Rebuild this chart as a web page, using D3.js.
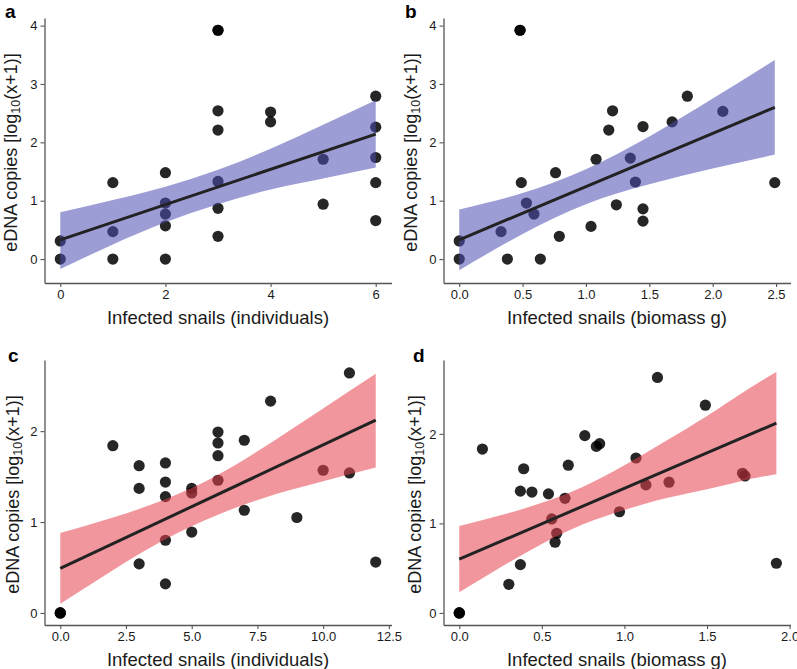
<!DOCTYPE html>
<html>
<head>
<meta charset="utf-8">
<script src="https://cdn.jsdelivr.net/npm/d3@7"></script>
<style>
body { margin: 0; background: #fff; }
text { font-family: "Liberation Sans", Arial, Helvetica, sans-serif; }
</style>
</head>
<body>
<div id="fig"></div>
<script>
// ---- data ----
// a: eDNA vs infected snails (individuals)
const a_x = [0,0,1,1,1,2,2,2,2,2,3,3,3,3,3,3,3,4,4,5,5,6,6,6,6,6]
const a_y = [0.31,0,1.31,0.47,0,1.48,0.96,0.77,0.57,0,3.92,3.92,2.54,2.21,1.33,0.87,0.39,2.52,2.35,1.71,0.94,2.79,2.26,1.74,1.31,0.66]
const a_fit_x = [0, 6]
const a_fit_y = [0.33, 2.14]
const a_band_x = [0, 1, 2, 3, 4, 5, 6]
const a_band_lo = [-0.17, 0.25, 0.63, 0.94, 1.19, 1.38, 1.57]
const a_band_hi = [0.80, 1.01, 1.24, 1.53, 1.89, 2.30, 2.72]

// b: eDNA vs infected snails (biomass g)
const b_x = [0,0,0.33,0.38,0.48,0.48,0.49,0.53,0.59,0.64,0.76,0.79,1.04,1.08,1.18,1.21,1.24,1.35,1.39,1.45,1.45,1.45,1.68,1.80,2.08,2.49]
const b_y = [0.31,0,0.47,0,3.92,3.92,1.31,0.96,0.77,0,1.48,0.39,0.56,1.71,2.21,2.54,0.93,1.73,1.32,2.27,0.86,0.65,2.35,2.79,2.53,1.31]
const b_fit_x = [0, 2.49]
const b_fit_y = [0.33, 2.60]
const b_band_x = [0, 0.5, 1.0, 1.5, 2.0, 2.49]
const b_band_lo = [-0.19, 0.43, 0.94, 1.28, 1.55, 1.79]
const b_band_hi = [0.85, 1.13, 1.54, 2.10, 2.75, 3.41]

// c: eDNA vs infected snails (individuals)
const c_x = [0,0,0,2,3,3,3,4,4,4,4,4,5,5,5,6,6,6,6,7,7,8,9,10,11,11,12]
const c_y = [0,0,0,1.84,1.62,1.37,0.54,1.65,1.44,1.28,0.80,0.32,1.37,1.32,0.89,1.99,1.87,1.73,1.46,1.90,1.13,2.33,1.05,1.57,2.64,1.54,0.56]
const c_fit_x = [0, 12]
const c_fit_y = [0.49, 2.12]
const c_band_x = [0, 2, 4, 6, 8, 10, 12]
const c_band_lo = [0.10, 0.47, 0.81, 1.08, 1.29, 1.45, 1.60]
const c_band_hi = [0.88, 1.05, 1.25, 1.52, 1.87, 2.25, 2.63]

// d: eDNA vs infected snails (biomass g)
const d_x = [0,0,0,0.14,0.30,0.37,0.37,0.39,0.44,0.54,0.56,0.58,0.59,0.64,0.66,0.76,0.83,0.85,0.97,1.07,1.13,1.20,1.27,1.49,1.715,1.73,1.92]
const d_y = [0,0,0,1.83,0.32,1.36,0.54,1.61,1.35,1.33,1.05,0.79,0.89,1.28,1.65,1.98,1.86,1.89,1.13,1.73,1.43,2.63,1.46,2.32,1.56,1.53,0.555]
const d_fit_x = [0, 1.92]
const d_fit_y = [0.60, 2.12]
const d_band_x = [0, 0.25, 0.5, 0.75, 1.0, 1.25, 1.5, 1.75, 1.92]
const d_band_lo = [0.23, 0.51, 0.77, 0.99, 1.15, 1.28, 1.38, 1.49, 1.55]
const d_band_hi = [0.97, 1.09, 1.23, 1.41, 1.65, 1.92, 2.20, 2.50, 2.69]

const ticks_individuals_a = [0, 2, 4, 6]
const ticks_biomass_b = [0, 0.5, 1.0, 1.5, 2.0, 2.5]
const ticks_individuals_c = [0, 2.5, 5.0, 7.5, 10.0, 12.5]
const ticks_biomass_d = [0, 0.5, 1.0, 1.5, 2.0]
const ticks_y_top = [0, 1, 2, 3, 4]
const ticks_y_bottom = [0, 1, 2]

const x_label_ind = "Infected snails (individuals)"
const x_label_bio = "Infected snails (biomass g)"

// ---- layout ----
plot_w = 347
plot_h = 265
blue_fill = "#4d4db4"
red_fill = "#e8404f"
axis_color = "#555"

svg = d3.select("#fig")
	.append("svg")
	.attr("width", 797)
	.attr("height", 669)

function draw_panel(p){
	var g = svg.append("g")
	var x = d3.scaleLinear().domain(p.xdom).range([p.left, p.left + plot_w])
	var y = d3.scaleLinear().domain(p.ydom).range([p.top + plot_h, p.top])

	// points first, ribbon is laid over them
	g.selectAll(".pt")
		.data(d3.zip(p.px, p.py))
		.join("circle")
		.attr("class", "pt")
		.attr("cx", d => x(d[0]))
		.attr("cy", d => y(d[1]))
		.attr("r", 5.6)
		.attr("fill", "#000")
		.attr("fill-opacity", 0.85)

	var band = d3.area()
		.x(d => x(d[0]))
		.y0(d => y(d[1]))
		.y1(d => y(d[2]))
		.curve(d3.curveNatural)
	g.append("path")
		.datum(d3.zip(p.bx, p.blo, p.bhi))
		.attr("d", band)
		.attr("fill", p.fill)
		.attr("fill-opacity", 0.55)

	g.append("path")
		.datum(d3.zip(p.fx, p.fy))
		.attr("d", d3.line().x(d => x(d[0])).y(d => y(d[1])))
		.attr("stroke", "#222")
		.attr("stroke-width", 3)
		.attr("fill", "none")

	var xAxis = d3.axisBottom(x)
		.tickValues(p.xticks)
		.tickFormat(p.xfmt)
		.tickSize(4)
		.tickSizeOuter(0)
		.tickPadding(3)
	var yAxis = d3.axisLeft(y)
		.tickValues(p.yticks)
		.tickFormat(d3.format("d"))
		.tickSize(4)
		.tickSizeOuter(0)
		.tickPadding(3)

	var gx = g.append("g")
		.attr("transform", "translate(0," + (p.top + plot_h) + ")")
		.call(xAxis)
	var gy = g.append("g")
		.attr("transform", "translate(" + p.left + ",0)")
		.call(yAxis)
	;[gx, gy].forEach(function(ax){
		ax.select(".domain").attr("stroke", axis_color).attr("stroke-width", 1.3)
		ax.selectAll(".tick line").attr("stroke", axis_color).attr("stroke-width", 1.1)
		ax.selectAll(".tick text")
			.attr("fill", "#1a1a1a")
			.style("font-size", "13px")
			.style("font-family", "'Liberation Sans', Arial, sans-serif")
	})

	// axis titles
	g.append("text")
		.attr("x", p.left + plot_w / 2)
		.attr("y", p.top + plot_h + 41)
		.attr("text-anchor", "middle")
		.attr("fill", "#1a1a1a")
		.style("font-size", "18.5px")
		.text(p.xlabel)

	var yt = g.append("text")
		.attr("transform", "translate(" + p.ytx + "," + (p.top + plot_h / 2 + 2) + ") rotate(-90)")
		.attr("text-anchor", "middle")
		.attr("fill", "#1a1a1a")
		.style("font-size", "18px")
	yt.append("tspan").text("eDNA copies [log")
	yt.append("tspan").attr("baseline-shift", "-22%").style("font-size", "12.5px").text("10")
	yt.append("tspan").text("(x+1)]")

	g.append("text")
		.attr("x", p.lx)
		.attr("y", p.ly)
		.attr("fill", "#000")
		.style("font-size", "19px")
		.style("font-weight", "bold")
		.text(p.letter)
}

draw_panel({letter: "a", lx: 5, ly: 18, left: 44.5, top: 18, ytx: 16.5,
	xdom: [-0.3, 6.3], ydom: [-0.41, 4.13],
	px: a_x, py: a_y, fx: a_fit_x, fy: a_fit_y,
	bx: a_band_x, blo: a_band_lo, bhi: a_band_hi, fill: blue_fill,
	xticks: ticks_individuals_a, xfmt: d3.format("d"), yticks: ticks_y_top, xlabel: x_label_ind})

draw_panel({letter: "b", lx: 405, ly: 18, left: 443.5, top: 18, ytx: 416.5,
	xdom: [-0.124, 2.614], ydom: [-0.41, 4.13],
	px: b_x, py: b_y, fx: b_fit_x, fy: b_fit_y,
	bx: b_band_x, blo: b_band_lo, bhi: b_band_hi, fill: blue_fill,
	xticks: ticks_biomass_b, xfmt: d3.format(".1f"), yticks: ticks_y_top, xlabel: x_label_bio})

draw_panel({letter: "c", lx: 8, ly: 362, left: 44.5, top: 360, ytx: 18.5,
	xdom: [-0.6, 12.6], ydom: [-0.1325, 2.7825],
	px: c_x, py: c_y, fx: c_fit_x, fy: c_fit_y,
	bx: c_band_x, blo: c_band_lo, bhi: c_band_hi, fill: red_fill,
	xticks: ticks_individuals_c, xfmt: d3.format(".1f"), yticks: ticks_y_bottom, xlabel: x_label_ind})

draw_panel({letter: "d", lx: 413, ly: 362, left: 443.5, top: 360, ytx: 421,
	xdom: [-0.0955, 2.0055], ydom: [-0.1345, 2.8245],
	px: d_x, py: d_y, fx: d_fit_x, fy: d_fit_y,
	bx: d_band_x, blo: d_band_lo, bhi: d_band_hi, fill: red_fill,
	xticks: ticks_biomass_d, xfmt: d3.format(".1f"), yticks: ticks_y_bottom, xlabel: x_label_bio})
</script>
</body>
</html>
